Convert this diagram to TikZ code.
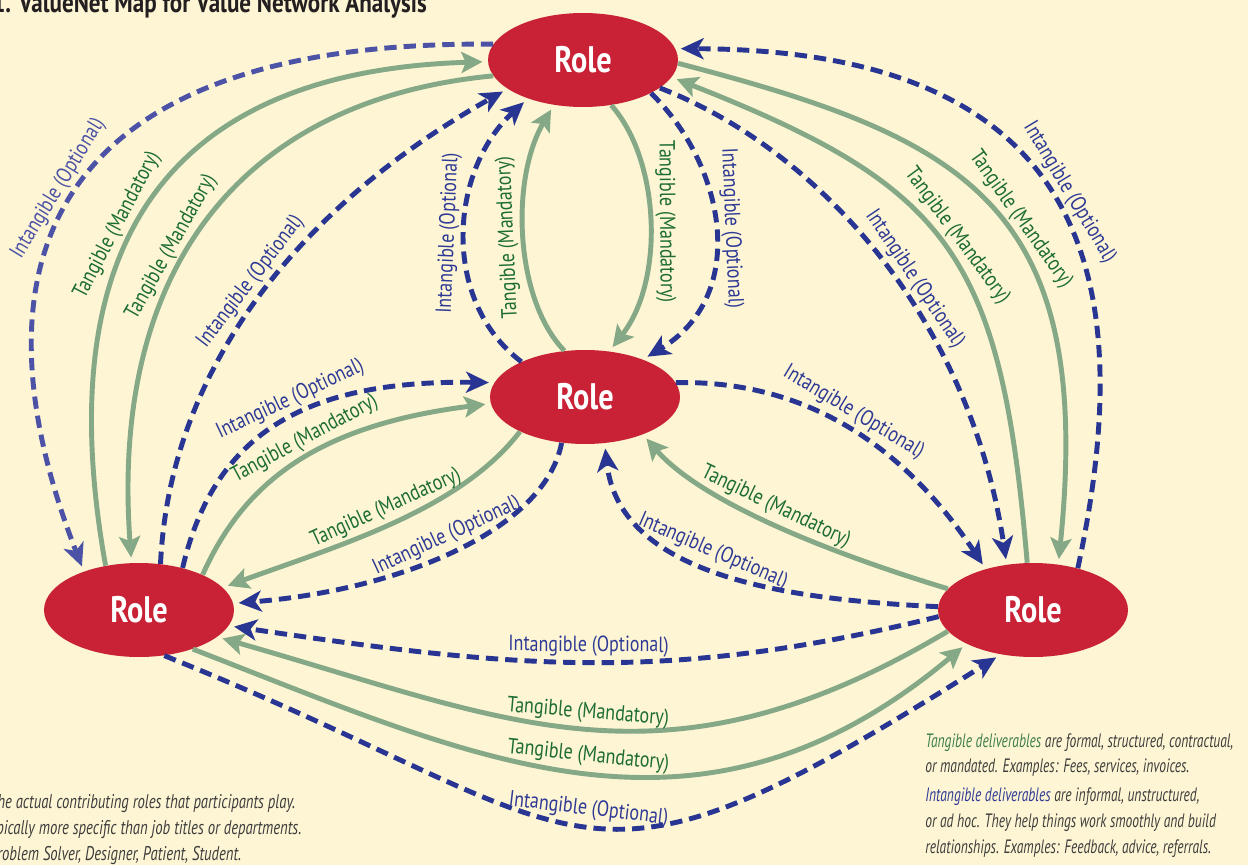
\documentclass[tikz,border=0pt]{standalone}
\usepackage{fontspec}
\setmainfont{PT Sans}[FakeStretch=0.82]
\newfontfamily\notefont{PT Sans}[FakeStretch=0.7]
\newfontfamily\rolenotefont{PT Sans}[FakeStretch=0.74]
\usetikzlibrary{arrows.meta,shapes.geometric}

\definecolor{bgcream}{RGB}{253,245,211}
\definecolor{rolered}{RGB}{201,33,53}
\definecolor{tanline}{RGB}{133,168,134}
\definecolor{tantext}{RGB}{28,108,52}
\definecolor{tannote}{RGB}{62,126,76}
\definecolor{intline}{RGB}{40,53,147}
\definecolor{intlight}{RGB}{76,82,166}
\definecolor{inttext}{RGB}{46,58,150}
\definecolor{notegray}{RGB}{60,60,60}
\definecolor{titlegray}{RGB}{35,31,32}

\begin{document}
\begin{tikzpicture}[x=0.02cm, y=-0.02cm,
  role/.style={ellipse, fill=rolered, minimum width=3.8cm, minimum height=1.88cm,
    inner sep=0pt, text=white, font=\fontsize{21}{22}\selectfont\bfseries},
  tangible/.style={draw=tanline, line width=2.8pt,
    -{Stealth[length=12pt,width=12pt,inset=2.5pt]}, shorten >=3pt},
  intangible/.style={draw=intline, line width=2.8pt, dash pattern=on 7pt off 4pt,
    -{Stealth[length=13pt,width=12pt,inset=3.5pt]}, shorten >=3pt},
  tlabel/.style={text=tantext, sloped, above, inner sep=2pt,
    font=\fontsize{12.5}{14}\selectfont},
  ilabel/.style={text=inttext, sloped, above, inner sep=2pt,
    font=\fontsize{12.5}{14}\selectfont},
  notetext/.style={inner sep=0pt, text=notegray,
    font=\notefont\itshape\fontsize{11}{14.7}\selectfont},
  rolenotetext/.style={inner sep=0pt, text=notegray,
    font=\rolenotefont\itshape\fontsize{11.3}{14.7}\selectfont}]

\fill[bgcream] (0,0) rectangle (1248,865);
\useasboundingbox (0,0) rectangle (1248,865);

\node[anchor=base west, inner sep=0pt, text=titlegray,
  font=\fontsize{16}{18}\selectfont\bfseries] (title) at (-8,13)
  {1. ValueNet Map for Value Network Analysis};

\node[role] (rtop) at (583,60) {Role};
\node[role] (rmid) at (585,397) {Role};
\node[role] (rleft) at (139,610) {Role};
\node[role] (rright) at (1033,610) {Role};

% top and left
\draw[intangible, draw=intlight] (rtop.170) .. controls (30,40) and (-30,280) .. (rleft.145)
  node[ilabel, pos=0.5, text=intlight] {Intangible (Optional)};
\draw[tangible] (rleft.127) .. controls (40,200) and (210,70) .. (rtop.181)
  node[tlabel, pos=0.4] {Tangible (Mandatory)};
\draw[tangible] (rtop.190) .. controls (240,100) and (110,270) .. (rleft.99)
  node[tlabel, pos=0.57] {Tangible (Mandatory)};
\draw[intangible] (rleft.65) .. controls (170,360) and (310,200) .. (rtop.201)
  node[ilabel, pos=0.5] {Intangible (Optional)};

% top and middle
\draw[intangible] (rmid.151) .. controls (440,300) and (450,170) .. (rtop.215)
  node[ilabel, pos=0.5, allow upside down] {Intangible (Optional)};
\draw[tangible] (rmid.114) .. controls (515,300) and (510,180) .. (rtop.237)
  node[tlabel, pos=0.5, allow upside down] {Tangible (Mandatory)};
\draw[tangible] (rtop.302) .. controls (660,160) and (665,280) .. (rmid.62)
  node[tlabel, pos=0.5, allow upside down] {Tangible (Mandatory)};
\draw[intangible] (rtop.334) .. controls (725,165) and (750,295) .. (rmid.33)
  node[ilabel, pos=0.5, allow upside down] {Intangible (Optional)};

% top and right
\draw[intangible] (rright.43) .. controls (1140,280) and (1090,50) .. (rtop.7)
  node[ilabel, pos=0.5] {Intangible (Optional)};
\draw[tangible] (rtop.358) .. controls (965,138) and (1095,203) .. (rright.61)
  node[tlabel, pos=0.55] {Tangible (Mandatory)};
\draw[tangible] (rright.97) .. controls (1001,254) and (950,187) .. (rtop.349)
  node[tlabel, pos=0.5] {Tangible (Mandatory)};
\draw[intangible] (rtop.340) .. controls (820,150) and (970,320) .. (rright.120)
  node[ilabel, pos=0.56] {Intangible (Optional)};

% middle and right
\draw[intangible] (rmid.9) .. controls (800,380) and (900,440) .. (rright.139)
  node[ilabel, pos=0.5] {Intangible (Optional)};
\draw[tangible] (rright.166) .. controls (820,550) and (700,500) .. (rmid.327)
  node[tlabel, pos=0.5] {Tangible (Mandatory)};
\draw[intangible] (rright.178) .. controls (800,600) and (620,580) .. (rmid.293)
  node[ilabel, pos=0.55] {Intangible (Optional)};

% middle and left
\draw[intangible] (rleft.44) .. controls (215,430) and (310,380) .. (rmid.171)
  node[ilabel, pos=0.55] {Intangible (Optional)};
\draw[tangible] (rleft.29) .. controls (245,480) and (320,425) .. (rmid.184)
  node[tlabel, pos=0.55] {Tangible (Mandatory)};
\draw[tangible] (rmid.208) .. controls (460,510) and (340,545) .. (rleft.15)
  node[tlabel, pos=0.5] {Tangible (Mandatory)};
\draw[intangible] (rmid.243) .. controls (545,530) and (400,590) .. (rleft.4)
  node[ilabel, pos=0.5] {Intangible (Optional)};

% left and right
\draw[intangible] (rright.184) .. controls (665,684) and (515,668) .. (rleft.350)
  node[ilabel, pos=0.5] {Intangible (Optional)};
\draw[tangible] (rright.194) .. controls (664,800) and (512,721) .. (rleft.341)
  node[tlabel, pos=0.5] {Tangible (Mandatory)};
\draw[tangible] (rleft.324) .. controls (479,760) and (699,868) .. (rright.207)
  node[tlabel, pos=0.5] {Tangible (Mandatory)};
\draw[intangible] (rleft.299) .. controls (611,835) and (565,930) .. (rright.234)
  node[ilabel, pos=0.5] {Intangible (Optional)};

\node[rolenotetext, anchor=base west] (rolenote1) at (-3,808)
  {he actual contributing roles that participants play.};
\node[rolenotetext, anchor=base west] (rolenote2) at (-4,834)
  {pically more specific than job titles or departments.};
\node[rolenotetext, anchor=base west] (rolenote3) at (-3,860)
  {roblem Solver, Designer, Patient, Student.};

\node[notetext, anchor=north west, align=left] (delivnote) at (925,733)
  {{\color{tannote}Tangible deliverables} are formal, structured, contractual,\\
   or mandated. Examples: Fees, services, invoices.\\[1.6pt]
   {\color{inttext}Intangible deliverables} are informal, unstructured,\\
   or ad hoc. They help things work smoothly and build\\
   relationships. Examples: Feedback, advice, referrals.};

\end{tikzpicture}
\end{document}
